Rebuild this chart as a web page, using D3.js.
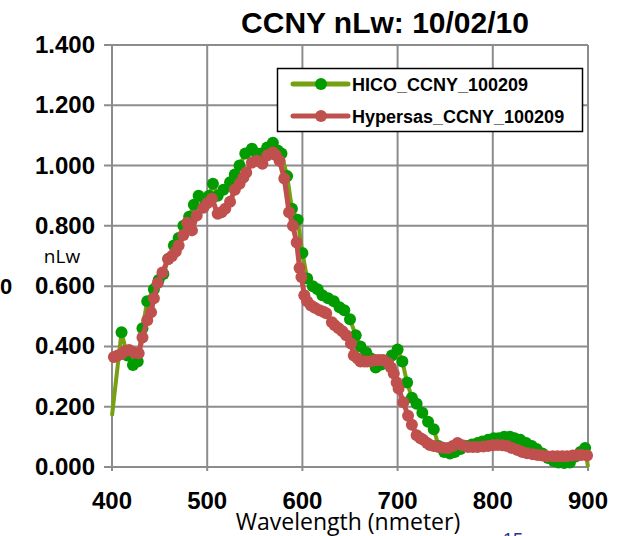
<!DOCTYPE html>
<html><head><meta charset="utf-8">
<script src="https://cdn.jsdelivr.net/npm/d3@7"></script>
<style>body{margin:0;background:#fff}svg{display:block}</style>
</head><body>
<svg id="c" width="625" height="536"></svg>
<script>
const title = "CCNY nLw: 10/02/10";
const seriesNames = ["HICO_CCNY_100209", "Hypersas_CCNY_100209"];
const xTicks = [400, 500, 600, 700, 800, 900];
const yTicks = [0, 0.2, 0.4, 0.6, 0.8, 1.0, 1.2, 1.4];

const hicoWl = [400,410,416,422,427,432,437,444,449,454,459,465,470,475,481,486,491,497,502,506,511,517,524,529,534,540,547,552,557,563,569,574,578,584,589,595,600,605,611,616,621,627,633,639,644,650,656,661,667,672,677,683,688,694,700,705,710,715,720,726,732,738,743,749,755,760,766,772,778,784,789,795,801,806,812,818,823,829,835,841,846,852,858,864,869,875,881,887,892,897,900];
const hicoVal = [0.17,0.447,0.37,0.338,0.35,0.46,0.55,0.59,0.62,0.64,0.69,0.735,0.76,0.80,0.83,0.87,0.90,0.89,0.90,0.94,0.90,0.92,0.945,0.97,1.0,1.04,1.056,1.04,1.04,1.06,1.076,1.05,1.04,0.965,0.857,0.82,0.71,0.625,0.60,0.59,0.57,0.56,0.55,0.53,0.52,0.49,0.437,0.40,0.38,0.36,0.33,0.34,0.35,0.37,0.39,0.35,0.28,0.23,0.21,0.18,0.15,0.125,0.07,0.05,0.045,0.05,0.06,0.07,0.075,0.08,0.085,0.09,0.095,0.095,0.1,0.1,0.095,0.09,0.08,0.07,0.06,0.045,0.03,0.02,0.015,0.013,0.015,0.035,0.05,0.063,0.0];

const hyperWl = [402,406,410,414,418,423,428,432,437,441,444,448,453,459,463,467,470,475,479,484,489,496,500,505,511,515,519,524,529,534,538,541,547,552,558,563,569,572,576,581,586,590,594,597,599,602,605,609,613,618,622,625,631,634,638,642,646,651,654,658,661,665,668,673,677,681,685,690,693,696,699,701,706,711,715,720,724,727,731,734,738,743,748,753,758,763,768,774,779,784,790,795,800,805,810,815,820,826,831,836,842,847,852,857,863,868,873,878,884,889,893,899];
const hyperVal = [0.365,0.37,0.375,0.385,0.388,0.38,0.377,0.43,0.487,0.513,0.56,0.61,0.645,0.69,0.70,0.715,0.735,0.77,0.81,0.785,0.834,0.86,0.875,0.89,0.84,0.845,0.857,0.88,0.92,0.94,0.96,0.977,1.01,1.016,1.006,1.033,1.043,1.035,1.016,0.957,0.845,0.80,0.745,0.66,0.63,0.57,0.55,0.536,0.528,0.52,0.515,0.51,0.48,0.47,0.46,0.45,0.437,0.41,0.37,0.36,0.35,0.35,0.35,0.352,0.355,0.355,0.355,0.345,0.33,0.31,0.28,0.26,0.215,0.17,0.14,0.105,0.095,0.09,0.08,0.073,0.07,0.066,0.064,0.063,0.07,0.08,0.072,0.066,0.066,0.066,0.068,0.07,0.072,0.073,0.072,0.07,0.063,0.056,0.05,0.046,0.042,0.04,0.038,0.036,0.036,0.036,0.036,0.036,0.038,0.04,0.04,0.038];

const svg = d3.select("#c");
const x = d3.scaleLinear().domain([400, 900]).range([112, 588]);
const y = d3.scaleLinear().domain([0, 1.4]).range([467, 45]);
const gridC = "#8c8c8c";
const tickFont = "'Liberation Sans', Arial, sans-serif";

// horizontal gridlines
svg.append("g").selectAll("line").data(yTicks).join("line")
  .attr("x1", 104).attr("x2", x(900))
  .attr("y1", d => y(d)).attr("y2", d => y(d))
  .attr("stroke", gridC).attr("stroke-width", 2);
// vertical gridlines
svg.append("g").selectAll("line").data(xTicks).join("line")
  .attr("x1", d => x(d)).attr("x2", d => x(d))
  .attr("y1", y(1.4)).attr("y2", y(0) + 4)
  .attr("stroke", gridC).attr("stroke-width", 2);

// y tick labels
svg.append("g").selectAll("text").data(yTicks).join("text")
  .attr("x", 95).attr("y", d => y(d) + 8)
  .attr("text-anchor", "end")
  .attr("font-family", tickFont).attr("font-weight", "bold").attr("font-size", 24)
  .text(d => d3.format(".3f")(d));
// x tick labels
svg.append("g").selectAll("text").data(xTicks).join("text")
  .attr("x", d => x(d)).attr("y", 509)
  .attr("text-anchor", "middle")
  .attr("font-family", tickFont).attr("font-weight", "bold").attr("font-size", 24)
  .text(d => d);

// series
const hico = hicoWl.map((w, i) => ({w, v: hicoVal[i]}));
const hyper = hyperWl.map((w, i) => ({w, v: hyperVal[i]}));
const line = d3.line().x(d => x(d.w)).y(d => y(d.v));

svg.append("path").datum(hico).attr("d", line)
  .attr("fill", "none").attr("stroke", "#76a012").attr("stroke-width", 4).attr("stroke-linejoin", "round");
svg.append("g").selectAll("circle").data(hico.slice(1, -1)).join("circle")
  .attr("cx", d => x(d.w)).attr("cy", d => y(d.v)).attr("r", 6)
  .attr("fill", "#029c02");

svg.append("path").datum(hyper).attr("d", line)
  .attr("fill", "none").attr("stroke", "#c0504d").attr("stroke-width", 5).attr("stroke-linejoin", "round");
svg.append("g").selectAll("circle").data(hyper).join("circle")
  .attr("cx", d => x(d.w)).attr("cy", d => y(d.v)).attr("r", 6)
  .attr("fill", "#c0504d");

// legend
const lg = svg.append("g");
lg.append("rect").attr("x", 277.5).attr("y", 68.5).attr("width", 305).attr("height", 63)
  .attr("fill", "#fff").attr("stroke", "#000").attr("stroke-width", 1.5);
const legColors = [["#76a012", "#029c02"], ["#c0504d", "#c0504d"]];
const legY = [84, 116];
seriesNames.forEach((n, i) => {
  lg.append("line").attr("x1", 293).attr("x2", 348).attr("y1", legY[i]).attr("y2", legY[i])
    .attr("stroke", legColors[i][0]).attr("stroke-width", 5).attr("stroke-linecap", "round");
  lg.append("circle").attr("cx", 321).attr("cy", legY[i]).attr("r", 6).attr("fill", legColors[i][1]);
  lg.append("text").attr("x", 352).attr("y", legY[i] + 6.5)
    .attr("font-family", tickFont).attr("font-weight", "bold").attr("font-size", 18)
    .text(n);
});

// title
svg.append("text").attr("x", 385).attr("y", 33).attr("text-anchor", "middle")
  .attr("font-family", tickFont).attr("font-weight", "bold").attr("font-size", 30)
  .text(title);
// axis titles
svg.append("text").attr("x", 62).attr("y", 263).attr("text-anchor", "middle")
  .attr("font-family", "'Open Sans', sans-serif").attr("font-size", 19).text("nLw");
svg.append("text").attr("x", 0).attr("y", 294)
  .attr("font-family", tickFont).attr("font-weight", "bold").attr("font-size", 22).text("0");
svg.append("text").attr("x", 348).attr("y", 530).attr("text-anchor", "middle")
  .attr("font-family", "'Open Sans', sans-serif").attr("font-size", 23).text("Wavelength (nmeter)");
svg.append("text").attr("x", 503).attr("y", 546)
  .attr("font-family", tickFont).attr("font-size", 18).attr("fill", "#2e3192").text("15");
</script>
</body></html>
